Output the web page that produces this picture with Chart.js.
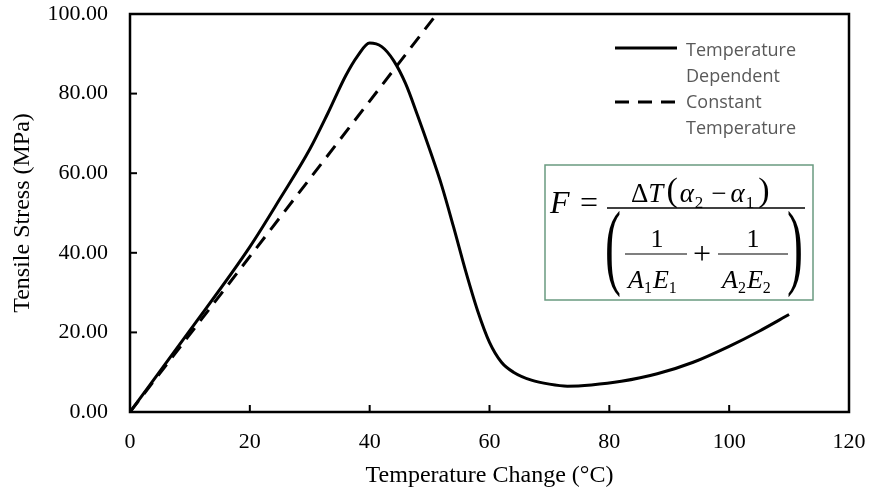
<!DOCTYPE html>
<html>
<head>
<meta charset="utf-8">
<title>Tensile Stress vs Temperature Change</title>
<script src="https://cdn.jsdelivr.net/npm/chart.js@4.4.1/dist/chart.umd.min.js"></script>
<style>
  html, body { margin: 0; padding: 0; background: #fff; }
  #wrap { width: 871px; height: 490px; }
</style>
</head>
<body>
<div id="wrap"><canvas id="stressChart" width="871" height="490"></canvas></div>
<script>
// Temperature dependent curve
const tempChange = [0, 10, 20, 25, 30, 33, 36, 38, 40, 42, 44, 46, 48, 50, 52, 54, 56, 58, 60, 62, 64, 67, 70, 73, 77, 82, 88, 94, 100, 105, 110];
const stressTempDependent = [0, 20.5, 41.5, 53.5, 66, 75, 84.5, 89.5, 92.7, 91.8, 88.3, 82.5, 74.5, 66, 57, 46.5, 35.5, 25.5, 17.5, 12.5, 10, 8, 7, 6.5, 6.8, 7.7, 9.6, 12.5, 16.5, 20.3, 24.5];

// Constant temperature line
const constTempChange = [0, 51.2];
const stressConstTemp = [0, 100];

// Axis ticks
const xTicks = [0, 20, 40, 60, 80, 100, 120];
const yTicks = [0, 20, 40, 60, 80, 100];

const legendLabels = [['Temperature', 'Dependent'], ['Constant', 'Temperature']];

const serif = '"Liberation Serif", "Times New Roman", serif';

// plot frame + inward tick marks
const framePlugin = {
  id: 'frame',
  afterDatasetsDraw(chart) {
    const { ctx, chartArea: a, scales: { x, y } } = chart;
    ctx.save();
    ctx.strokeStyle = '#000';
    ctx.lineWidth = 2;
    x.ticks.forEach(t => {
      const px = x.getPixelForValue(t.value);
      ctx.beginPath(); ctx.moveTo(px, a.bottom); ctx.lineTo(px, a.bottom - 7); ctx.stroke();
    });
    y.ticks.forEach(t => {
      const py = y.getPixelForValue(t.value);
      ctx.beginPath(); ctx.moveTo(a.left, py); ctx.lineTo(a.left + 7, py); ctx.stroke();
    });
    ctx.lineWidth = 2.5;
    ctx.strokeRect(a.left, a.top, a.right - a.left, a.bottom - a.top);
    ctx.restore();
  }
};

// legend with two-line labels
const legendPlugin = {
  id: 'sideLegend',
  afterDraw(chart) {
    const { ctx, chartArea: a } = chart;
    const lx = a.right - 234, tx = a.right - 163;
    ctx.save();
    chart.data.datasets.forEach((ds, i) => {
      const top = a.top + 42 + i * 52;
      ctx.strokeStyle = ds.borderColor;
      ctx.lineWidth = 3;
      ctx.setLineDash(ds.borderDash || []);
      ctx.beginPath(); ctx.moveTo(lx, top + (i ? -6 : -8)); ctx.lineTo(lx + 62, top + (i ? -6 : -8)); ctx.stroke();
      ctx.setLineDash([]);
      ctx.fillStyle = '#595959';
      ctx.font = '18px "Open Sans", sans-serif';
      ctx.textBaseline = 'alphabetic';
      legendLabels[i].forEach((s, k) => ctx.fillText(s, tx, top + k * 26));
    });
    ctx.restore();
  }
};

function drawRuns(ctx, runs, x0, base) {
  let x = x0;
  runs.forEach(r => {
    x += r.gap || 0;
    ctx.font = r.f;
    ctx.fillText(r.t, x, base + (r.dy || 0));
    x += ctx.measureText(r.t).width;
  });
  return x;
}

// formula box
const formulaPlugin = {
  id: 'formula',
  afterDraw(chart) {
    const { ctx, chartArea: a } = chart;
    const bx = a.right - 304, by = a.top + 151;
    const it = s => 'italic ' + s + 'px ' + serif;
    const up = s => s + 'px ' + serif;
    ctx.save();
    ctx.fillStyle = '#fff';
    ctx.fillRect(bx, by, 268, 135);
    ctx.strokeStyle = '#6a9a80';
    ctx.lineWidth = 1.5;
    ctx.strokeRect(bx, by, 268, 135);

    ctx.fillStyle = '#000';
    ctx.strokeStyle = '#000';
    ctx.textBaseline = 'alphabetic';
    ctx.textAlign = 'left';
    // F =
    drawRuns(ctx, [{ t: 'F', f: it(32) }], bx + 5, by + 48);
    ctx.textAlign = 'center';
    ctx.font = up(32);
    ctx.fillText('=', bx + 44, by + 48);
    ctx.textAlign = 'left';

    // main fraction bar
    ctx.lineWidth = 1.5;
    ctx.beginPath(); ctx.moveTo(bx + 62, by + 43); ctx.lineTo(bx + 260, by + 43); ctx.stroke();

    // numerator
    drawRuns(ctx, [
      { t: 'Δ', f: up(27) },
      { t: 'T', f: it(27) },
      { t: '(', f: up(34), gap: 3, dy: -1 },
      { t: 'α', f: it(27), gap: 2 },
      { t: '2', f: up(17), dy: 6, gap: 1 },
      { t: '−', f: up(27), gap: 8 },
      { t: 'α', f: it(27), gap: 4 },
      { t: '1', f: up(17), dy: 6, gap: 1 },
      { t: ')', f: up(34), gap: 4, dy: -1 }
    ], bx + 86, by + 37);

    // big parentheses
    ctx.font = up(96);
    ctx.save(); ctx.translate(bx + 60, by + 112); ctx.scale(0.5, 1); ctx.fillText('(', 0, 0); ctx.restore();
    ctx.save(); ctx.translate(bx + 242, by + 112); ctx.scale(0.5, 1); ctx.fillText(')', 0, 0); ctx.restore();

    // inner fractions
    ctx.lineWidth = 1.2;
    ctx.beginPath(); ctx.moveTo(bx + 80, by + 89); ctx.lineTo(bx + 142, by + 89); ctx.stroke();
    ctx.beginPath(); ctx.moveTo(bx + 173, by + 89); ctx.lineTo(bx + 243, by + 89); ctx.stroke();
    ctx.textAlign = 'center';
    ctx.font = up(26);
    ctx.fillText('1', bx + 112, by + 82);
    ctx.fillText('1', bx + 208, by + 82);
    ctx.font = up(32);
    ctx.fillText('+', bx + 157, by + 99);
    ctx.textAlign = 'left';
    drawRuns(ctx, [
      { t: 'A', f: it(26) },
      { t: '1', f: up(16), dy: 5 },
      { t: 'E', f: it(26), gap: 1 },
      { t: '1', f: up(16), dy: 5 }
    ], bx + 83, by + 123);
    drawRuns(ctx, [
      { t: 'A', f: it(26) },
      { t: '2', f: up(16), dy: 5 },
      { t: 'E', f: it(26), gap: 1 },
      { t: '2', f: up(16), dy: 5 }
    ], bx + 177, by + 123);
    ctx.restore();
  }
};

const ctx = document.getElementById('stressChart').getContext('2d');
new Chart(ctx, {
  type: 'line',
  data: {
    datasets: [
      {
        label: 'Temperature Dependent',
        data: tempChange.map((t, i) => ({ x: t, y: stressTempDependent[i] })),
        borderColor: '#000',
        borderWidth: 3,
        pointRadius: 0,
        cubicInterpolationMode: 'monotone',
        fill: false
      },
      {
        label: 'Constant Temperature',
        data: constTempChange.map((t, i) => ({ x: t, y: stressConstTemp[i] })),
        borderColor: '#000',
        borderWidth: 3,
        borderDash: [14, 9],
        pointRadius: 0,
        fill: false
      }
    ]
  },
  options: {
    responsive: false,
    animation: false,
    devicePixelRatio: 1,
    layout: { padding: { left: 0, top: 14, right: 22, bottom: 0 } },
    plugins: {
      legend: { display: false },
      tooltip: { enabled: false }
    },
    scales: {
      x: {
        type: 'linear',
        min: 0,
        max: 120,
        afterBuildTicks: s => { s.ticks = xTicks.map(v => ({ value: v })); },
        afterFit: s => { s.height = 78; s.paddingLeft = 0; s.paddingRight = 0; },
        grid: { display: false, drawTicks: false },
        border: { display: false },
        ticks: { color: '#000', padding: 17, font: { family: serif, size: 22 } },
        title: {
          display: true,
          text: 'Temperature Change (°C)',
          color: '#000',
          padding: 0,
          font: { family: serif, size: 24 }
        }
      },
      y: {
        min: 0,
        max: 100,
        afterBuildTicks: s => { s.ticks = yTicks.map(v => ({ value: v })); },
        afterFit: s => { s.width = 130; s.paddingTop = 0; s.paddingBottom = 0; },
        grid: { display: false, drawTicks: false },
        border: { display: false },
        ticks: {
          color: '#000',
          padding: 22,
          font: { family: serif, size: 22 },
          callback: v => v.toFixed(2)
        },
        title: {
          display: true,
          text: 'Tensile Stress (MPa)',
          color: '#000',
          padding: { top: 8, bottom: 0 },
          font: { family: serif, size: 24 }
        }
      }
    }
  },
  plugins: [framePlugin, legendPlugin, formulaPlugin]
});
</script>
</body>
</html>
